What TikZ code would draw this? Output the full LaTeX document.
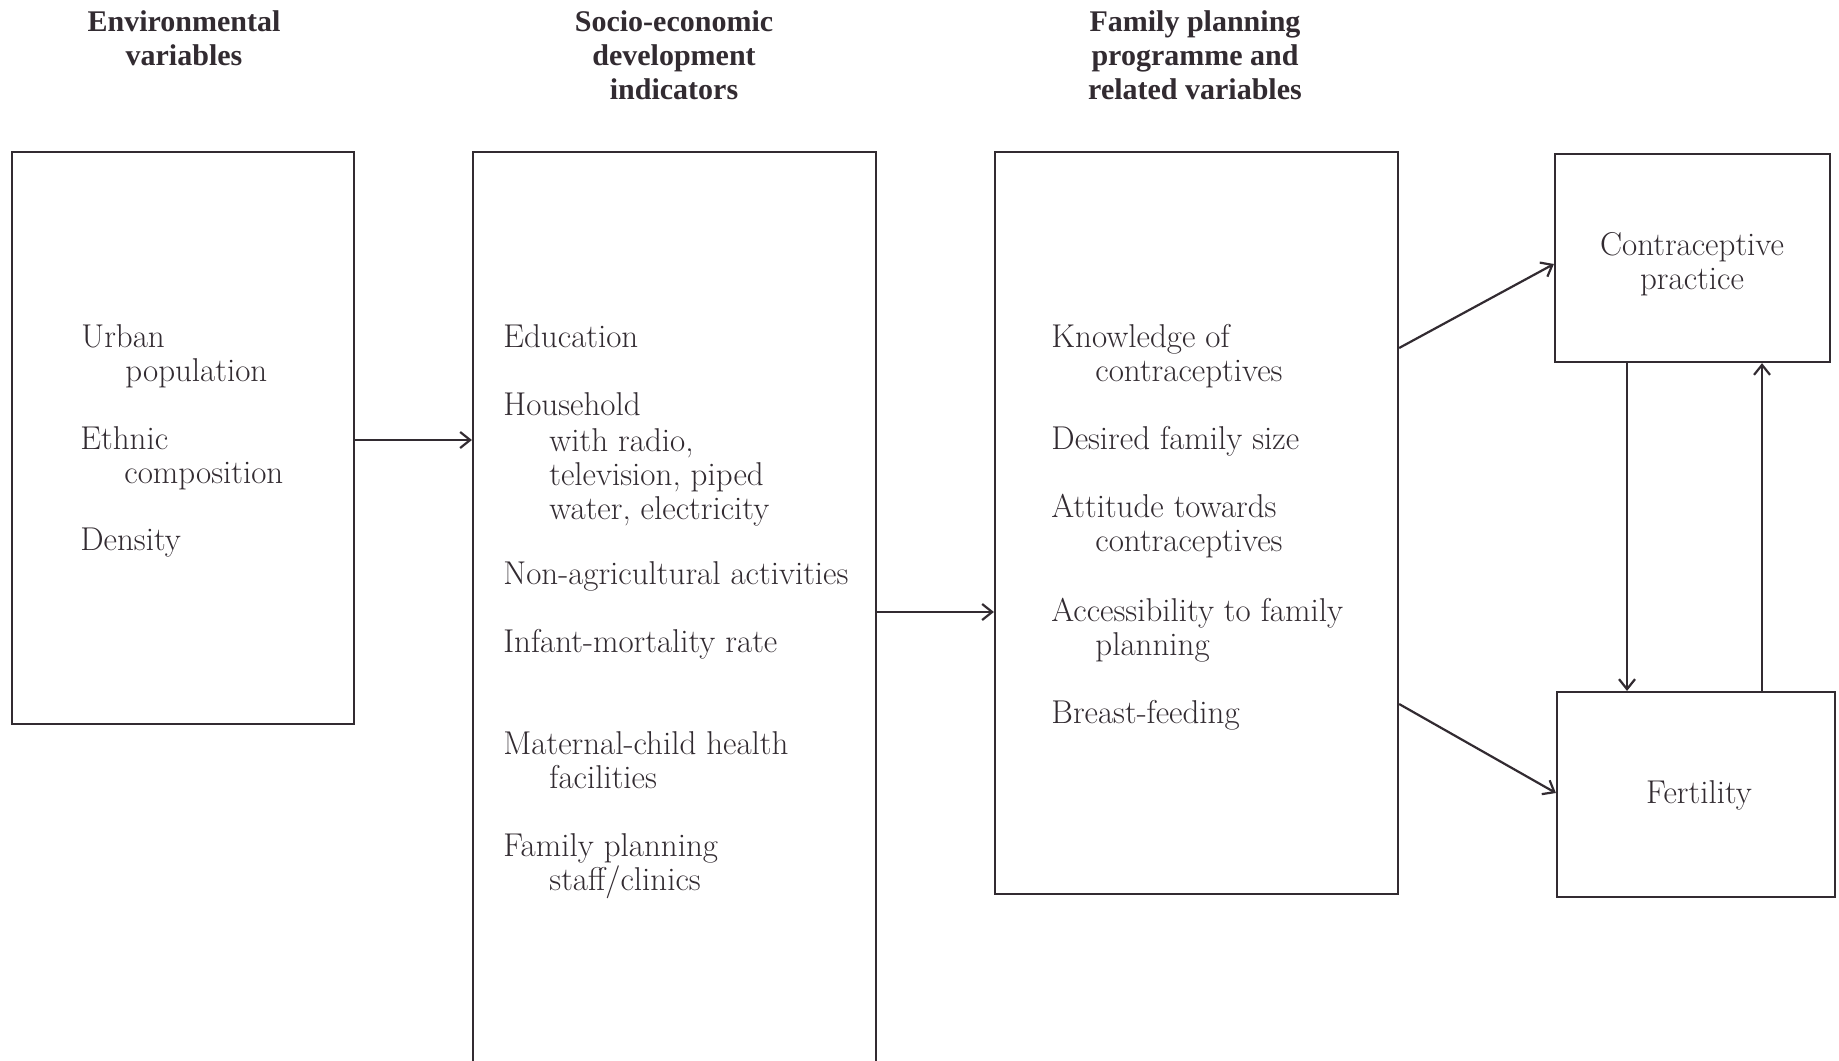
\documentclass[tikz,border=0pt]{standalone}
\usepackage{fontspec}
\newfontfamily\titlefont{Liberation Serif}
\usetikzlibrary{arrows.meta}
\definecolor{ink}{RGB}{50,43,49}
\begin{document}
\begin{tikzpicture}[x=0.5pt,y=-0.5pt,
  box/.style={draw=ink,line width=1.1pt,inner sep=0pt},
  lbl/.style={anchor=mid west,inner sep=0pt,text=ink,font=\fontsize{16.5}{17}\selectfont},
  ttl/.style={align=center,inner sep=0pt,text=ink,font=\titlefont\bfseries\fontsize{15}{17}\selectfont},
  outlbl/.style={align=center,inner sep=0pt,text=ink,font=\fontsize{16.5}{17}\selectfont},
  arr/.style={draw=ink,line width=1.1pt,-{Straight Barb[length=5pt,width=8pt,line width=1.1pt]}}]
\useasboundingbox (0,0) rectangle (1839,1060);
\clip (0,0) rectangle (1839,1060);
\fill[white] (0,0) rectangle (1839,1060);
% titles
\node[ttl] (t1) at (184,38) {Environmental\\variables};
\node[ttl] (t2) at (674,55) {Socio-economic\\development\\indicators};
\node[ttl] (t3) at (1195,55) {Family planning\\programme and\\related variables};
% boxes
\node[box,minimum width=171pt,minimum height=286pt] (b1) at (183,438) {};
\node[box,minimum width=201.5pt,minimum height=464pt] (b2) at (674.5,616) {};
\node[box,minimum width=201.5pt,minimum height=371pt] (b3) at (1196.5,523) {};
\node[box,minimum width=137.5pt,minimum height=104pt] (b4) at (1692.5,258) {};
\node[box,minimum width=139pt,minimum height=102.5pt] (b5) at (1696,794.5) {};
% box 1 text
\node[lbl] (u1) at (81,343) {Urban};
\node[lbl] (u2) at (125,377) {population};
\node[lbl] (e1) at (80,445) {Ethnic};
\node[lbl] (e2) at (124,479) {composition};
\node[lbl] (d1) at (80,546) {Density};
% box 2 text
\node[lbl] (s1) at (503,343) {Education};
\node[lbl] (s2) at (503,411) {Household};
\node[lbl] (s3) at (549,447) {with radio,};
\node[lbl] (s4) at (549,481) {television, piped};
\node[lbl] (s5) at (549,515) {water, electricity};
\node[lbl] (s6) at (503,580) {Non-agricultural activities};
\node[lbl] (s7) at (503,648) {Infant-mortality rate};
\node[lbl] (s8) at (503,750) {Maternal-child health};
\node[lbl] (s9) at (549,784) {facilities};
\node[lbl] (s10) at (503,852) {Family planning};
\node[lbl] (s11) at (549,886) {staff/clinics};
% box 3 text
\node[lbl] (f1) at (1051,343) {Knowledge of};
\node[lbl] (f2) at (1095,377) {contraceptives};
\node[lbl] (f3) at (1051,445) {Desired family size};
\node[lbl] (f4) at (1051,513) {Attitude towards};
\node[lbl] (f5) at (1095,547) {contraceptives};
\node[lbl] (f6) at (1051,617) {Accessibility to family};
\node[lbl] (f7) at (1095,651) {planning};
\node[lbl] (f8) at (1051,719) {Breast-feeding};
% outcome boxes text
\node[outlbl] (c1) at (1692,264) {Contraceptive\\practice};
\node[outlbl] (c2) at (1699,795) {Fertility};
% connectors
\coordinate (p12) at (354,440);
\coordinate (p23) at (876,612);
\coordinate (p34) at (1398,348);
\coordinate (q34) at (1555,264);
\coordinate (p35) at (1398,704);
\coordinate (q35) at (1557,793);
\coordinate (xd) at (1627,500);
\coordinate (xu) at (1762,500);
\draw[arr] (b1.east |- p12) -- (b2.west |- p12);
\draw[arr] (b2.east |- p23) -- (b3.west |- p23);
\draw[arr] (b3.east |- p34) -- (b4.west |- q34);
\draw[arr] (b3.east |- p35) -- (b5.west |- q35);
\draw[arr] (b4.south -| xd) -- (b5.north -| xd);
\draw[arr] (b5.north -| xu) -- (b4.south -| xu);
\end{tikzpicture}
\end{document}
